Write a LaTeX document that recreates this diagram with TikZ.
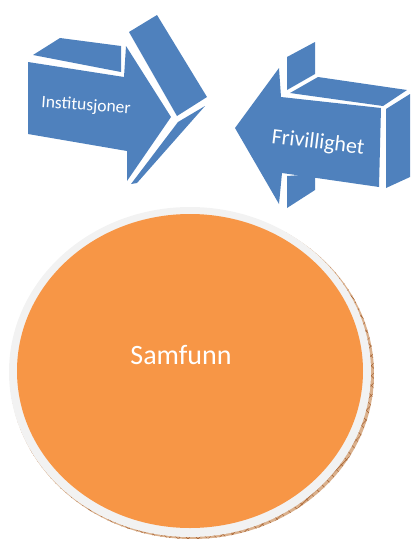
\documentclass[tikz,border=0pt]{standalone}
\usepackage{fontspec}
\setmainfont{Carlito}
\usetikzlibrary{patterns.meta}
\definecolor{abl}{HTML}{4F81BD}
\definecolor{aor}{HTML}{F79646}
\definecolor{aring}{HTML}{F2F2F2}
\definecolor{ashad}{RGB}{218,176,140}
\definecolor{ahatch}{RGB}{165,95,45}
\tikzset{face/.style={fill=abl,draw=none},
  lbl/.style={text=white,inner sep=0pt}}
\begin{document}
\begin{tikzpicture}[x=1pt,y=-1pt]
\useasboundingbox (0,0) rectangle (411,539);
% left arrow (Institusjoner)
\fill[face] (33,55) -- (60,38) -- (121,46) -- (121,72) -- cycle;
\fill[face] (28,62) -- (124,77) -- (126,46) -- (171,117) -- (127,181) -- (127,151) -- (28,134) -- cycle;
\fill[face] (129,32) -- (157,15) -- (207,97) -- (177,116) -- cycle;
\fill[face] (178,122) -- (205,106) -- (137,183) -- (131,184) -- cycle;
\node[lbl,font=\fontsize{17.5}{20}\selectfont,rotate=-4] (inst) at (86,106) {Institusjoner};
% right arrow (Frivillighet)
\fill[face] (287,57) -- (315,42) -- (315,74) -- (287,90) -- cycle;
\fill[face] (290,93) -- (318,77) -- (407,90) -- (383,106) -- cycle;
\fill[face] (235,128) -- (279,68) -- (281,97) -- (381,108) -- (379,187) -- (282,173) -- (279,204) -- cycle;
\fill[face] (386,109) -- (410,94) -- (410,177) -- (386,188) -- cycle;
\fill[face] (287,176) -- (315,174) -- (315,190) -- (287,208) -- cycle;
\node[lbl,font=\fontsize{22}{25}\selectfont,rotate=-7] (friv) at (318,143) {Frivillighet};
% circle
\fill[ashad] (192,374) ellipse [x radius=182, y radius=165];
\fill[pattern={Lines[angle=45,distance=7pt,line width=0.5pt]},pattern color=ahatch] (192,374) ellipse [x radius=182, y radius=165];
\fill[pattern={Lines[angle=-45,distance=7pt,line width=0.5pt]},pattern color=ahatch] (192,374) ellipse [x radius=182, y radius=165];
\fill[aring] (190,372) ellipse [x radius=181, y radius=165];
\fill[aor] (190,371) ellipse [x radius=173, y radius=157];
\node[lbl,font=\fontsize{28}{32}\selectfont] (samf) at (181,355) {Samfunn};
\end{tikzpicture}
\end{document}
